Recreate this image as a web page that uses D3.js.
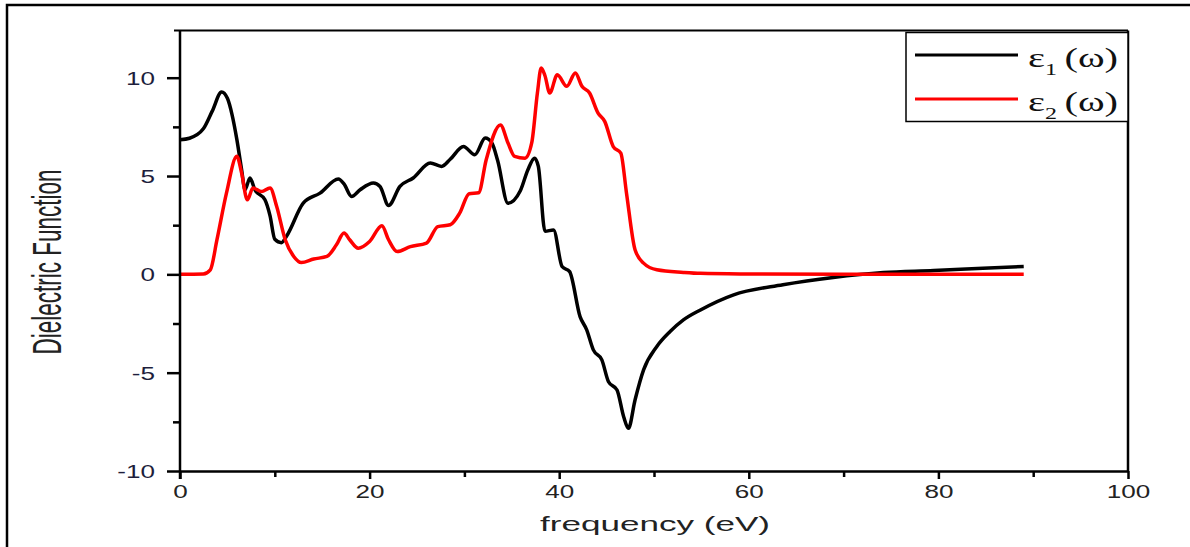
<!DOCTYPE html>
<html>
<head>
<meta charset="utf-8">
<script src="https://cdn.jsdelivr.net/npm/d3@7"></script>
<style>
  html, body { margin: 0; padding: 0; background: #fff; }
  svg { display: block; }
</style>
</head>
<body>
<svg id="chart" width="1190" height="547"></svg>
<script>
// ---- data ----
const freq1 = [0, 1.0, 2.46, 3.4, 4.39, 5.0, 5.5, 6.0, 6.5, 6.86, 7.38, 7.9, 8.96, 9.5, 10.0, 10.7, 11.25, 13.0, 14.77, 16.7, 17.3, 18.1, 19.0, 20.4, 21.1, 22.0, 23.2, 24.6, 26.4, 27.6, 28.5, 29.9, 31.1, 32.2, 32.9, 33.5, 34.6, 35.9, 36.7, 37.4, 37.8, 38.5, 39.4, 40.3, 41.1, 42.2, 42.9, 43.6, 44.5, 45.2, 46.1, 46.8, 47.3, 48.0, 48.9, 50.3, 51.7, 53.1, 54.9, 58.4, 63.6, 68.9, 74.2, 79.5, 84.7, 89.0];
const eps1  = [6.84, 6.92, 7.4, 8.3, 9.27, 8.95, 8.1, 6.85, 5.32, 4.3, 4.9, 4.3, 3.79, 2.97, 1.78, 1.61, 1.95, 3.62, 4.13, 4.85, 4.6, 3.96, 4.3, 4.64, 4.47, 3.5, 4.47, 4.9, 5.66, 5.49, 5.85, 6.5, 6.08, 6.93, 6.68, 5.8, 3.62, 4.25, 5.32, 5.91, 5.49, 2.19, 2.26, 0.4, 0.14, -2.15, -2.82, -3.84, -4.35, -5.46, -5.88, -7.24, -7.83, -6.39, -4.86, -3.67, -2.91, -2.32, -1.81, -1.04, -0.53, -0.16, 0.09, 0.19, 0.31, 0.40];

const freq2 = [0, 2.46, 3.2, 3.9, 4.9, 6.0, 6.5, 7.1, 7.7, 8.6, 9.5, 10.2, 11.1, 12.0, 12.8, 14.1, 15.5, 16.5, 17.3, 17.9, 18.8, 20.0, 21.3, 22.0, 22.9, 24.3, 26.0, 27.2, 28.5, 29.5, 30.5, 31.5, 32.3, 33.8, 34.6, 35.3, 36.4, 37.1, 37.7, 38.1, 38.5, 39.0, 39.8, 40.8, 41.7, 42.4, 43.2, 44.1, 44.8, 45.7, 46.5, 47.1, 48.0, 48.9, 50.3, 53.1, 54.9, 60, 70, 89.0];
const eps2  = [0, 0.02, 0.23, 1.76, 4.13, 6.0, 5.15, 3.79, 4.39, 4.21, 4.39, 3.45, 1.76, 0.91, 0.6, 0.78, 0.91, 1.5, 2.1, 1.76, 1.33, 1.67, 2.47, 1.76, 1.16, 1.41, 1.59, 2.43, 2.52, 3.11, 4.1, 4.15, 5.83, 7.6, 6.68, 6.0, 5.91, 6.68, 9.22, 10.49, 10.1, 9.22, 10.15, 9.56, 10.24, 9.56, 9.22, 8.2, 7.78, 6.5, 6.17, 4.13, 1.25, 0.57, 0.23, 0.1, 0.05, 0.02, 0.0, 0.0];

const xTicksMajor = [0, 20, 40, 60, 80, 100];
const xTicksMinor = [10, 30, 50, 70, 90];
const yTicksMajor = [-10, -5, 0, 5, 10];
const yTicksMinor = [-7.5, -2.5, 2.5, 7.5];

const seriesNames = ["1", "2"];
const seriesColors = ["#000000", "#ff0000"];

// ---- layout ----
const svg = d3.select("#chart");
const L = 180, R = 1128, T = 30.5, B = 471;
const x = d3.scaleLinear().domain([0, 100]).range([L, R]);
const y = d3.scaleLinear().domain([-10, 12.4]).range([B, T]);

// outer frame
svg.append("rect").attr("x", 7).attr("y", 5).attr("width", 1200).attr("height", 560)
  .attr("fill", "none").attr("stroke", "#000").attr("stroke-width", 2.5);

// curves
const line = d3.line().x(d => x(d[0])).y(d => y(d[1])).curve(d3.curveMonotoneX);
const s1 = freq1.map((f, i) => [f, eps1[i]]);
const s2 = freq2.map((f, i) => [f, eps2[i]]);
svg.append("path").datum(s1).attr("d", line).attr("fill", "none")
  .attr("stroke", seriesColors[0]).attr("stroke-width", 3.5).attr("stroke-linejoin", "round");
svg.append("path").datum(s2).attr("d", line).attr("fill", "none")
  .attr("stroke", seriesColors[1]).attr("stroke-width", 3.5).attr("stroke-linejoin", "round");

// top & right frame
svg.append("line").attr("x1", 174).attr("x2", R).attr("y1", T).attr("y2", T)
  .attr("stroke", "#000").attr("stroke-width", 2);
svg.append("line").attr("x1", R).attr("x2", R).attr("y1", T).attr("y2", B)
  .attr("stroke", "#000").attr("stroke-width", 2.5);

// x axis
const xAxisG = svg.append("g").attr("transform", `translate(0,${B})`);
xAxisG.call(d3.axisBottom(x).tickValues(xTicksMinor).tickSize(6).tickFormat(""));
xAxisG.call(g => g.select(".domain").remove());
const xAxisMajor = svg.append("g").attr("transform", `translate(0,${B})`)
  .call(d3.axisBottom(x).tickValues(xTicksMajor).tickSize(8).tickSizeOuter(0).tickPadding(6).tickFormat(d3.format("d")));
svg.selectAll("g .tick line").attr("stroke", "#000").attr("stroke-width", 2.5);
xAxisMajor.select(".domain").attr("stroke", "#000").attr("stroke-width", 2.5);
xAxisMajor.selectAll("text")
  .attr("font-family", "Liberation Sans, Arial, sans-serif").attr("font-size", 18)
  .attr("fill", "#222").attr("y", 27).attr("dy", 0)
  .attr("transform", "scale(1.45,1)");

// y axis
const yAxisMinor = svg.append("g").attr("transform", `translate(${L},0)`)
  .call(d3.axisLeft(y).tickValues(yTicksMinor).tickSize(7).tickFormat(""));
yAxisMinor.select(".domain").remove();
const yAxisMajor = svg.append("g").attr("transform", `translate(${L},0)`)
  .call(d3.axisLeft(y).tickValues(yTicksMajor).tickSize(13).tickSizeOuter(0).tickFormat(d3.format("d")));
yAxisMajor.select(".domain").attr("d", `M0,${T}V${B + 8}`).attr("stroke", "#000").attr("stroke-width", 2.5);
svg.selectAll("g .tick line").attr("stroke", "#000").attr("stroke-width", 2.5);
yAxisMajor.selectAll("text")
  .attr("font-family", "Liberation Sans, Arial, sans-serif").attr("font-size", 18)
  .attr("fill", "#1e1e3c").attr("x", -25 / 1.45).attr("dy", "0.36em")
  .attr("transform", "scale(1.45,1)")
  .text(d => d < 0 ? "-" + Math.abs(d) : d);

// axis titles
svg.append("text").attr("x", 655).attr("y", 531)
  .attr("text-anchor", "middle")
  .attr("font-family", "Liberation Sans, Arial, sans-serif").attr("font-size", 21)
  .attr("fill", "#222")
  .attr("textLength", 230).attr("lengthAdjust", "spacingAndGlyphs")
  .text("frequency (eV)");

svg.append("text")
  .attr("transform", "translate(61,262) scale(1.5,1) rotate(-90)")
  .attr("text-anchor", "middle")
  .attr("font-family", "Liberation Sans, Arial, sans-serif").attr("font-size", 27)
  .attr("fill", "#222")
  .attr("textLength", 185).attr("lengthAdjust", "spacingAndGlyphs")
  .text("Dielectric  Function");

// legend
const leg = svg.append("g");
leg.append("rect").attr("x", 906).attr("y", 32.5).attr("width", 222).attr("height", 89)
  .attr("fill", "#fff").attr("stroke", "#000").attr("stroke-width", 1.5);
const legY = [55, 99];
seriesNames.forEach((n, i) => {
  leg.append("line").attr("x1", 915).attr("x2", 1018).attr("y1", legY[i]).attr("y2", legY[i])
    .attr("stroke", seriesColors[i]).attr("stroke-width", 3);
  const t = leg.append("text")
    .attr("transform", `translate(1028,${legY[i] + 12}) scale(1.5,1)`)
    .attr("font-family", "Liberation Serif, Times New Roman, serif").attr("font-size", 27)
    .attr("fill", "#111");
  t.append("tspan").text("ε");
  t.append("tspan").attr("font-size", 16).attr("dy", 8).text(n);
  t.append("tspan").attr("dy", -8).attr("dx", 5).text("(ω)");
});
</script>
</body>
</html>
